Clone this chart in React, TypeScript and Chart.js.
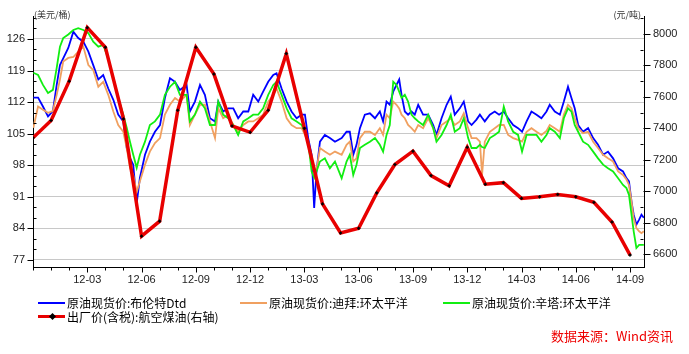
import React, { useEffect, useRef } from 'react';
import { Chart, registerables } from 'chart.js';

Chart.register(...registerables);

// x values: months counted from 2011-12-01
const dailyMonths = [
  0.02, 0.28, 0.55, 0.83, 1.1, 1.31, 1.49, 1.67, 1.95, 2.23, 2.5, 2.78, 3.06, 3.33, 3.61, 3.88,
  4.16, 4.44, 4.71, 4.99, 5.18, 5.36, 5.54, 5.73, 5.91, 6.19, 6.46, 6.74, 7.02, 7.29, 7.57, 7.85,
  8.12, 8.49, 8.67, 8.95, 9.23, 9.5, 9.78, 10.06, 10.24, 10.51, 10.79, 11.07, 11.34, 11.62, 11.9,
  12.17, 12.45, 12.72, 13.0, 13.28, 13.46, 13.74, 14.02, 14.29, 14.57, 14.85, 15.03, 15.21, 15.4,
  15.54, 15.67, 15.86, 16.13, 16.41, 16.69, 17.06, 17.33, 17.51, 17.7, 17.88, 18.07, 18.34, 18.62,
  18.9, 19.17, 19.35, 19.54, 19.72, 19.91, 20.09, 20.24, 20.37, 20.55, 20.73, 20.92, 21.1, 21.29,
  21.56, 21.84, 22.12, 22.3, 22.58, 22.86, 23.09, 23.31, 23.59, 23.81, 24.05, 24.24, 24.51, 24.7,
  24.82, 24.97, 25.25, 25.52, 25.76, 26.02, 26.26, 26.54, 26.81, 27.03, 27.28, 27.55, 27.83, 28.1,
  28.38, 28.56, 28.84, 29.12, 29.34, 29.57, 29.76, 29.94, 30.13, 30.4, 30.68, 30.96, 31.23, 31.51,
  31.78, 32.06, 32.34, 32.61, 32.8, 32.94, 33.08, 33.2, 33.35, 33.5, 33.63, 33.76,
];

const brentDtd = [
  113, 113, 111, 108.8, 110, 115.8, 120.2, 121.7, 124, 127.6, 126.2, 125.4, 123.2, 120.2, 117, 118,
  115, 112.5, 109.2, 107.7, 101.8, 99.6, 98.1, 89.5, 95.2, 100.3, 103.2, 105.4, 106.9, 112.9, 117.3, 116.5,
  114.7, 115.8, 109.9, 112.1, 115.8, 113.6, 108.4, 107.7, 112.1, 109.9, 110.6, 110.6, 108.4, 109.9, 109.9,
  113.6, 112.1, 114.3, 116.5, 118, 118.4, 115, 112.1, 109.9, 108.4, 109.2, 109.2, 104, 100.3,
  88.5, 96.6, 103.2, 104.7, 104, 103.2, 104, 105.4, 105.4, 100.3, 102.5, 106.2, 109.2, 109.5,
  108.4, 109.9, 107.7, 112.1, 111.4, 114.3, 115.8, 117, 113.6, 109.9, 109.2, 109.9, 109.2, 111.4,
  109.2, 109.2, 106.9, 104.7, 108.4, 111.4, 113.2, 109.2, 110.6, 112.1, 107.7, 106.9, 108.1, 109.2,
  108.5, 107.7, 109.2, 109.9, 109.2, 109.9, 108.4, 106.9, 106.2, 105.4, 107.7, 109.9, 109.2, 108.4,
  109.9, 111.4, 109.9, 109.2, 112.1, 115.4, 112.9, 110.6, 106.9, 105.4, 106.2, 104, 102.5, 100.3,
  101, 99.5, 97.3, 96.6, 95.1, 94.4, 89.9, 87, 84.8, 85.9, 87, 86.3,
];

const dubaiAP = [
  106.3, 111, 110.3, 109.6, 110, 113.6, 117, 121, 121.8, 122, 123.2, 124.3, 120.2, 119.1, 115.4, 116.5,
  113.6, 109.9, 106.9, 105.4, 101.8, 97.4, 95.8, 92, 94.4, 98.1, 101, 102.9, 104, 109.2, 111.4, 112.9,
  112.1, 113.6, 106.9, 109.2, 111.4, 111.4, 107.7, 104, 110.6, 108.4, 109.2, 106.9, 105.4, 106.9, 107.7,
  107.7, 108.4, 109.2, 112.1, 113.6, 115, 112.1, 108.4, 106.9, 106.2, 106.2, 104.7, 103.2, 98.1,
  96.6, 97, 101.8, 101, 100.3, 101, 100.3, 102.5, 103.2, 98.8, 99.5, 104, 105.4, 105.4,
  104.7, 106.2, 104.7, 109.2, 108.4, 112.1, 111.4, 110.6, 109.2, 108.4, 106.9, 106.2, 105.4, 106.9,
  106.2, 108.4, 106.2, 104, 106.9, 107.7, 108.4, 106.9, 107.7, 109.5, 106.2, 104, 104, 103.2,
  95.8, 103.2, 105.4, 106.2, 106.9, 106.9, 104.7, 104, 103.6, 103.2, 105.4, 106.2, 105.4, 104.7,
  105.6, 106.9, 106.2, 105.4, 109.2, 111.4, 110.6, 108.4, 106.2, 105.1, 105.4, 103.2, 101.8, 100.3,
  99.5, 98.8, 96.6, 95.8, 94.8, 93.6, 89.9, 86.2, 84, 83.3, 82.9, 83.3,
];

const tapisAP = [
  118.5, 118, 115.8, 114, 114.7, 119.6, 124.3, 126.2, 127, 128, 128.4, 128, 127.3, 125.4, 124.3, 124.7,
  121.7, 117.4, 113, 109.2, 106.3, 103.2, 100.3, 97.4, 100.3, 103.2, 106.9, 107.7, 109.2, 113.6, 115.4, 116.5,
  113.6, 113.6, 107.7, 109.2, 112.1, 110.6, 106.9, 106.9, 112.1, 109.2, 108.4, 106.9, 104.7, 107.7, 108.4,
  109.2, 109.2, 110.6, 113.6, 115.8, 116.5, 113.6, 110.6, 108.4, 107.7, 106.9, 105.4, 103.2, 96.6,
  95.2, 96.6, 98.8, 99.5, 97.3, 98.8, 95.1, 98.8, 100.3, 95.8, 98.1, 101.8, 102.5, 103.2,
  104, 102.5, 101, 104.7, 106.9, 116.5, 115.8, 114.3, 112.9, 113.6, 112.1, 109.2, 108.4, 107.7,
  106.9, 109.2, 106.2, 103.2, 104.7, 106.9, 109.2, 105.4, 106.2, 108.4, 104, 101.8, 101.8, 102.5,
  102, 101.8, 104, 104.7, 105.4, 111, 107.7, 105.4, 104.7, 101, 104.7, 104.7, 104.7, 103.2,
  104.7, 106.2, 105.4, 104, 108.4, 110.6, 109.9, 106.9, 105.4, 103.2, 102.5, 101, 99.5, 98.1,
  97.3, 96.6, 95.1, 93.6, 92.9, 91.4, 87, 83.3, 79.6, 80.3, 80.3, 80.3,
];

const jetMonths = [
  0, 1, 2, 3, 4, 5, 6, 7, 8, 9, 10, 11, 12, 13, 14, 15, 16, 17, 18, 19, 20, 21, 22, 23, 24, 25, 26,
  27, 28, 29, 30, 31, 32, 33,
];
const jetFuel = [
  7340, 7450, 7700, 8040, 7915, 7460, 6715, 6810, 7515, 7915, 7745, 7415, 7375, 7515, 7875, 7400,
  6920, 6735, 6765, 6990, 7170, 7255, 7100, 7035, 7280, 7045, 7055, 6955, 6965, 6980, 6965, 6930,
  6805, 6595,
];

const monthTicks = jetMonths;
const xLabelMonths = [3, 6, 9, 12, 15, 18, 21, 24, 27, 30, 33];
const xTickLabels = ['12-03', '12-06', '12-09', '12-12', '13-03', '13-06', '13-09', '13-12', '14-03', '14-06', '14-09'];
const leftTicks = [77, 84, 91, 98, 105, 112, 119, 126];
const rightTicks = [6600, 6800, 7000, 7200, 7400, 7600, 7800, 8000];

const seriesNames = [
  '原油现货价:布伦特Dtd',
  '原油现货价:迪拜:环太平洋',
  '原油现货价:辛塔:环太平洋',
  '出厂价(含税):航空煤油(右轴)',
];
const seriesColors = ['#0000ff', '#f0a060', '#11ee11', '#e80000'];

const axisTicksPlugin = {
  id: 'axisTicks',
  afterDraw(chart: any) {
    const { ctx, chartArea: a, scales } = chart;
    const L = Math.round(a.left) + 0.5;
    const R = Math.round(a.right) - 0.5;
    const B = Math.round(a.bottom) + 0.5;
    ctx.save();
    ctx.strokeStyle = '#000';
    ctx.lineWidth = 1;
    ctx.beginPath();
    const ys = scales.y;
    const step = 7 / 3;
    for (let k = -3; k < 30; k++) {
      const v = leftTicks[0] + k * step;
      if (v < ys.min || v > ys.max) continue;
      const p = Math.round(ys.getPixelForValue(v)) + 0.5;
      if (k % 3 === 0) {
        ctx.moveTo(L - 6, p);
        ctx.lineTo(L, p);
      } else {
        ctx.moveTo(L, p);
        ctx.lineTo(L + 3, p);
      }
    }
    const y1 = scales.y1;
    for (let v = 6500; v <= 8200; v += 100) {
      if (v < y1.min || v > y1.max) continue;
      const p = Math.round(y1.getPixelForValue(v)) + 0.5;
      if (v % 200 === 0) {
        ctx.moveTo(R, p);
        ctx.lineTo(R + 7, p);
      } else {
        ctx.moveTo(R - 3, p);
        ctx.lineTo(R, p);
      }
    }
    const xs = scales.x;
    monthTicks.forEach((m) => {
      const p = Math.round(xs.getPixelForValue(m)) + 0.5;
      const major = xLabelMonths.includes(m);
      ctx.moveTo(p, B);
      ctx.lineTo(p, B + (major ? 5 : 3));
    });
    ctx.stroke();
    ctx.restore();
  },
};

export default function App() {
  const ref = useRef<HTMLCanvasElement>(null);
  useEffect(() => {
    const canvas = ref.current;
    if (!canvas) return;
    Chart.defaults.font.family = '"Liberation Sans", Arial, sans-serif';
    const toXY = (xs: number[], vs: number[]) => xs.map((x, i) => ({ x, y: vs[i] }));
    const chart = new Chart(canvas, {
      type: 'line',
      data: {
        datasets: [
          {
            label: seriesNames[3],
            data: toXY(jetMonths, jetFuel),
            yAxisID: 'y1',
            borderColor: seriesColors[3],
            backgroundColor: seriesColors[3],
            borderWidth: 3.5,
            pointRadius: 1.6,
            pointStyle: 'rectRot',
            pointBackgroundColor: '#000',
            pointBorderColor: '#000',
            pointBorderWidth: 0.5,
            order: 0,
          },
          {
            label: seriesNames[2],
            data: toXY(dailyMonths, tapisAP),
            yAxisID: 'y',
            borderColor: seriesColors[2],
            borderWidth: 1.8,
            pointRadius: 0,
            order: 1,
          },
          {
            label: seriesNames[1],
            data: toXY(dailyMonths, dubaiAP),
            yAxisID: 'y',
            borderColor: seriesColors[1],
            borderWidth: 1.8,
            pointRadius: 0,
            order: 2,
          },
          {
            label: seriesNames[0],
            data: toXY(dailyMonths, brentDtd),
            yAxisID: 'y',
            borderColor: seriesColors[0],
            borderWidth: 1.8,
            pointRadius: 0,
            order: 3,
          },
        ],
      },
      options: {
        responsive: false,
        animation: false,
        devicePixelRatio: 1,
        layout: { padding: { top: 16, left: 0, right: 0, bottom: 0 } },
        plugins: { legend: { display: false }, tooltip: { enabled: false } },
        elements: { line: { tension: 0 } },
        scales: {
          x: {
            type: 'linear',
            min: 0,
            max: 33.77,
            afterBuildTicks: (s: any) => {
              s.ticks = monthTicks.map((v) => ({ value: v }));
            },
            afterFit: (s: any) => {
              s.height = 87;
            },
            ticks: {
              autoSkip: false,
              maxRotation: 0,
              padding: 6,
              color: '#222',
              font: { size: 11 },
              callback: (v: any) => {
                const i = xLabelMonths.indexOf(Number(v));
                return i >= 0 ? xTickLabels[i] : '';
              },
            },
            grid: { drawOnChartArea: false, drawTicks: false },
            border: { display: true, color: '#000', width: 1 },
          },
          y: {
            type: 'linear',
            position: 'left',
            min: 75.38,
            max: 131.1,
            afterBuildTicks: (s: any) => {
              s.ticks = leftTicks.map((v) => ({ value: v }));
            },
            afterFit: (s: any) => {
              s.width = 33;
            },
            ticks: { padding: 8, color: '#222', font: { size: 11 }, callback: (v: any) => String(v) },
            grid: { color: '#c8c8c8', lineWidth: 1, drawTicks: false },
            border: { display: true, color: '#000', width: 1 },
          },
          y1: {
            type: 'linear',
            position: 'right',
            min: 6519,
            max: 8114,
            afterBuildTicks: (s: any) => {
              s.ticks = rightTicks.map((v) => ({ value: v }));
            },
            afterFit: (s: any) => {
              s.width = 45;
            },
            ticks: { padding: 9, color: '#222', font: { size: 11 }, callback: (v: any) => String(v) },
            grid: { drawOnChartArea: false, drawTicks: false },
            border: { display: true, color: '#000', width: 1 },
          },
        },
      },
      plugins: [axisTicksPlugin],
    });
    return () => chart.destroy();
  }, []);

  const cjk = '"Noto Sans CJK SC", "Noto Sans", sans-serif';
  const legendText: React.CSSProperties = {
    position: 'absolute',
    fontFamily: cjk,
    fontSize: 12,
    lineHeight: '14px',
    color: '#000',
    whiteSpace: 'nowrap',
  };
  const sample = (left: number, top: number, color: string, h: number): React.CSSProperties => ({
    position: 'absolute',
    left,
    top,
    width: 27,
    height: h,
    background: color,
  });

  return (
    <div style={{ position: 'fixed', left: 0, top: 0, width: 689, height: 354, background: '#fff', overflow: 'hidden' }}>
      <canvas ref={ref} width={689} height={354} style={{ position: 'absolute', left: 0, top: 0, width: 689, height: 354 }} />
      <div style={{ position: 'absolute', left: 34, top: 9, fontFamily: cjk, fontSize: 9, lineHeight: '11px', color: '#333', whiteSpace: 'nowrap' }}>(美元/桶)</div>
      <div style={{ position: 'absolute', right: 48, top: 9, fontFamily: cjk, fontSize: 9, lineHeight: '11px', color: '#333', whiteSpace: 'nowrap' }}>(元/吨)</div>

      <div style={sample(38, 302, seriesColors[0], 2)} />
      <div style={{ ...legendText, left: 67, top: 296 }}>{seriesNames[0]}</div>
      <div style={sample(240, 302, seriesColors[1], 2)} />
      <div style={{ ...legendText, left: 269, top: 296 }}>{seriesNames[1]}</div>
      <div style={sample(443, 302, seriesColors[2], 2)} />
      <div style={{ ...legendText, left: 472, top: 296 }}>{seriesNames[2]}</div>
      <div style={sample(38, 315, seriesColors[3], 3)} />
      <div style={{ position: 'absolute', left: 50, top: 314, width: 5, height: 5, background: '#000', transform: 'rotate(45deg)' }} />
      <div style={{ ...legendText, left: 67, top: 310 }}>{seriesNames[3]}</div>

      <div style={{ position: 'absolute', left: 551, top: 328, fontFamily: cjk, fontSize: 13, lineHeight: '16px', color: '#ee0000', whiteSpace: 'nowrap' }}>数据来源：Wind资讯</div>
    </div>
  );
}
